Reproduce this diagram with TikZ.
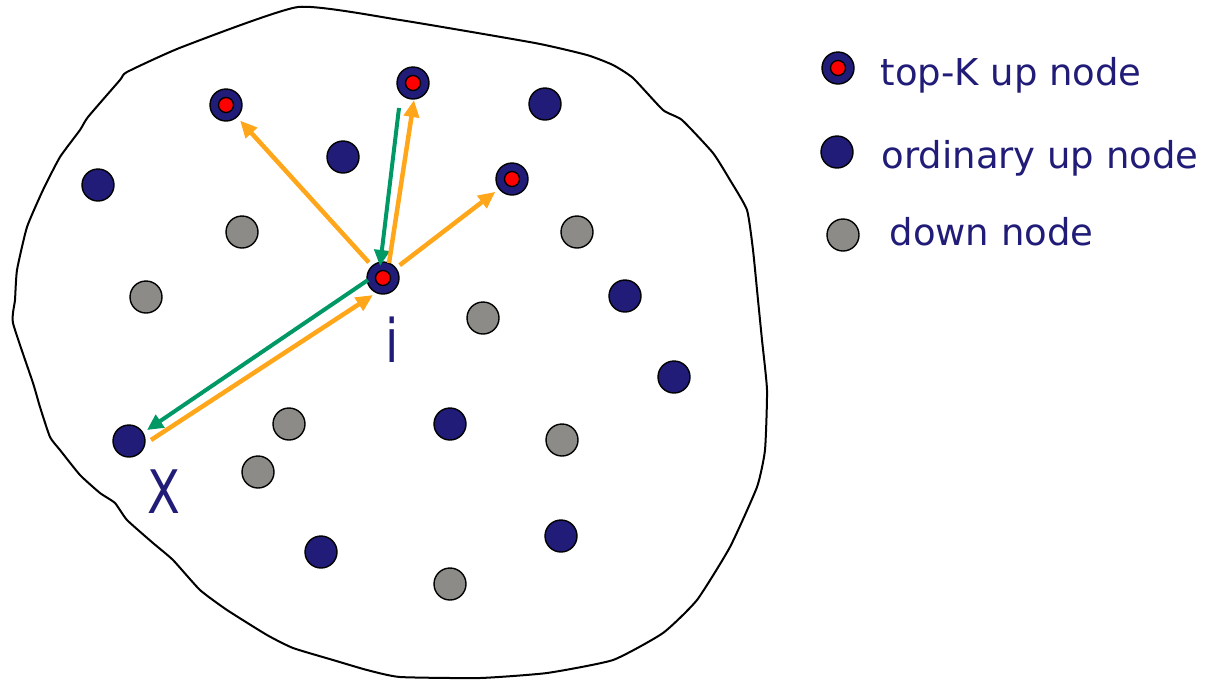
\documentclass[tikz,border=0pt]{standalone}
\usepackage{fontspec}
\setmainfont{DejaVu Sans}
\newfontfamily\labelfont[FakeStretch=0.8]{DejaVu Sans}
\usetikzlibrary{arrows.meta,positioning}
\definecolor{navy}{RGB}{32,28,119}
\definecolor{downgray}{RGB}{140,139,135}
\definecolor{arrorange}{RGB}{255,166,26}
\definecolor{arrgreen}{RGB}{0,153,102}
\begin{document}
\begin{tikzpicture}[x=1pt,y=-1pt,
  upnode/.style={circle,draw,line width=1.4pt,fill=navy,minimum size=32pt,inner sep=0pt,outer sep=5pt},
  topnode/.style={upnode,path picture={\filldraw[fill=red,line width=1.3pt] (path picture bounding box.center) circle (7.5pt);}},
  downnode/.style={upnode,fill=downgray},
  legtext/.style={anchor=base west,text=navy,font=\fontsize{37}{44}\selectfont},
  bigtext/.style={anchor=base,text=navy,font=\labelfont\fontsize{60}{70}\selectfont},
  orangearr/.style={-{Triangle[length=17pt,width=15pt]},line width=4.5pt,arrorange},
  greenarr/.style={-{Triangle[length=16pt,width=15pt]},line width=4pt,arrgreen}]
  \useasboundingbox (0,0) rectangle (1209,681);
  \draw[line width=2pt] plot[smooth cycle,tension=0.3] coordinates {
    (298,7) (400,20) (535,43) (587,55) (613,65) (633,78) (663,110) (682,120)
    (713,153) (730,180) (747,210) (753,250) (758,300) (762,340) (767,390)
    (765,450) (757,487) (730,547) (697,600) (663,633) (613,660) (547,673)
    (480,678) (400,677) (367,670) (333,660) (293,648) (267,635) (227,610)
    (200,590) (173,560) (153,543) (127,520) (115,503) (100,493) (80,475)
    (60,450) (50,437) (40,407) (33,383) (13,323) (15,300) (17,270) (27,227)
    (43,190) (60,157) (80,130) (88,117) (120,80) (127,72) (182,47)};
  \node[topnode] (A) at (226,105) {};
  \node[topnode] (B) at (413,83) {};
  \node[topnode] (C) at (512,179) {};
  \node[topnode] (i) at (383,278) {};
  \node[upnode] (X) at (129,441) {};
  \foreach \p [count=\n] in {(98,185),(343,157),(545,104),(625,296),(674,377),(450,424),(561,536),(321,552)}
    \node[upnode] (up\n) at \p {};
  \foreach \p [count=\n] in {(242,232),(146,297),(577,232),(483,318),(289,424),(258,472),(562,440),(450,584)}
    \node[downnode] (down\n) at \p {};
  \node[bigtext] (ilabel) at (392,362) {i};
  \node[bigtext] (xlabel) at (164,513) {X};
  \draw[orangearr] (i) -- (A);
  \draw[orangearr] (i) -- (C);
  \draw[greenarr] ([shift={(-14pt,-25pt)}]B.center) -- ([shift={(-3pt,12pt)}]i.center);
  \draw[orangearr] ([shift={(6pt,15pt)}]i.center) -- ([shift={(1pt,-17pt)}]B.center);
  \draw[greenarr] ([shift={(-15pt,-2pt)}]i.center) -- ([shift={(18pt,11pt)}]X.center);
  \draw[orangearr] ([shift={(22pt,1pt)}]X.center) -- ([shift={(-10pt,-17pt)}]i.center);
  \node[topnode] (ltop) at (838,68) {};
  \node[upnode] (lord) at (837,152) {};
  \node[downnode] (ldown) at (843,235) {};
  \node[legtext] (ttop) at (877,85) {top-K up node};
  \node[legtext] (tord) at (878,168) {ordinary up node};
  \node[legtext] (tdown) at (886,245) {down node};
\end{tikzpicture}
\end{document}
